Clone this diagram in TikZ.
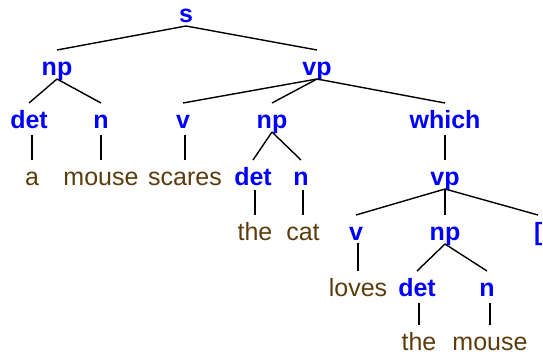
\documentclass[tikz,border=0pt]{standalone}
\usepackage{fontspec}
\setmainfont{Liberation Sans}
\usetikzlibrary{calc}
\definecolor{wordc}{RGB}{92,60,12}
\definecolor{catc}{RGB}{0,0,255}
\begin{document}
\begin{tikzpicture}[x=1pt,y=-1pt,
  cat/.style={font=\bfseries\fontsize{25}{25}\selectfont, text=catc, inner sep=0pt, anchor=base},
  wd/.style={font=\fontsize{25}{25}\selectfont, text=wordc, inner sep=0pt, anchor=base},
  edge/.style={draw=black, line width=1.4pt}]
\useasboundingbox (0,0) rectangle (543,356);
\clip (0,0) rectangle (543,356);
% row 1
\node[cat] (s) at (186,22) {s};
% row 2
\node[cat] (np1) at (57,75) {np};
\node[cat] (vp1) at (317,75) {vp};
% row 3
\node[cat] (det1) at (29,128) {det};
\node[cat] (n1) at (101,128) {n};
\node[cat] (v1) at (183,128) {v};
\node[cat] (np2) at (272,128) {np};
\node[cat] (which) at (445,128) {which};
% row 4
\node[wd] (a) at (32,185) {a};
\node[wd] (mouse1) at (101,185) {mouse};
\node[wd] (scares) at (185,185) {scares};
\node[cat] (det2) at (253,185) {det};
\node[cat] (n2) at (301,185) {n};
\node[cat] (vp2) at (445,185) {vp};
% row 5
\node[wd] (the1) at (255,240) {the};
\node[wd] (cat) at (303,240) {cat};
\node[cat] (v2) at (356,240) {v};
\node[cat] (np3) at (445,240) {np};
\node[cat, anchor=base west] (br) at (534,240) {[};
% row 6
\node[wd] (loves) at (358,296) {loves};
\node[cat] (det3) at (417,296) {det};
\node[cat] (n3) at (487,296) {n};
% row 7
\node[wd] (the2) at (419,350) {the};
\node[wd] (mouse2) at (490,350) {mouse};
% edges
\newcommand{\tedge}[2]{\draw[edge] ([yshift=-4pt]#1.base) -- ([yshift=25pt]#2.base);}
\newcommand{\vedge}[3]{\draw[edge] ($(#2.base |- #1.base)+(0,#3)$) -- ([yshift=25pt]#2.base);}
\tedge{s}{np1}
\tedge{s}{vp1}
\tedge{np1}{det1}
\tedge{np1}{n1}
\tedge{vp1}{v1}
\tedge{vp1}{np2}
\tedge{vp1}{which}
\vedge{det1}{a}{7}
\vedge{n1}{mouse1}{7}
\vedge{v1}{scares}{7}
\tedge{np2}{det2}
\tedge{np2}{n2}
\vedge{which}{vp2}{7}
\vedge{det2}{the1}{5}
\vedge{n2}{cat}{5}
\tedge{vp2}{v2}
\vedge{vp2}{np3}{4}
\draw[edge] ([yshift=-4pt]vp2.base) -- ([xshift=4pt,yshift=25pt]br.base west);
\vedge{v2}{loves}{3}
\tedge{np3}{det3}
\tedge{np3}{n3}
\vedge{det3}{the2}{7}
\vedge{n3}{mouse2}{7}
\end{tikzpicture}
\end{document}
